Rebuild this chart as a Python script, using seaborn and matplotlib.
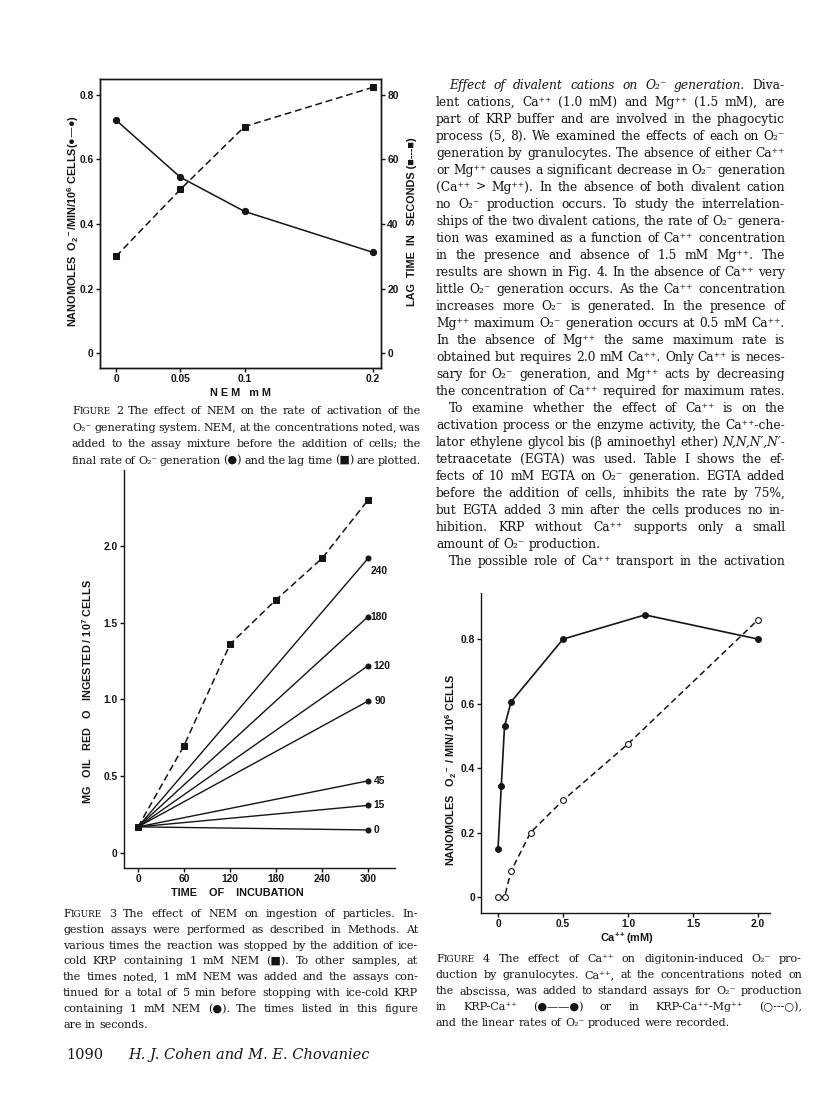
import matplotlib
matplotlib.use("Agg")
import matplotlib.pyplot as plt
import seaborn as sns

# ---------------- data ----------------
# Figure 2
nem_mM = [0, 0.05, 0.1, 0.2]
o2_rate = [0.722, 0.545, 0.439, 0.312]
lag_time_s = [30.0, 50.7, 70.2, 82.4]
fig2_xticks = [0, 0.05, 0.1, 0.2]
fig2_xticklabels = ["0", "0.05", "0.1", "0.2"]
fig2_yticks = [0, 0.2, 0.4, 0.6, 0.8]
fig2_yticklabels = ["0", "0.2", "0.4", "0.6", "0.8"]
fig2_y2ticks = [0, 20, 40, 60, 80]
fig2_y2ticklabels = ["0", "20", "40", "60", "80"]

# Figure 3
incub_time = [0, 60, 120, 180, 240, 300]
ingested_nem = [0.17, 0.70, 1.36, 1.65, 1.92, 2.30]
nem_added_at = [240, 180, 120, 90, 45, 15, 0]
ingested_5min = [1.92, 1.54, 1.22, 0.99, 0.47, 0.31, 0.15]
ingested_t0 = 0.17
assay_start = 0
assay_end = 300
fig3_xticks = [0, 60, 120, 180, 240, 300]
fig3_yticks = [0, 0.5, 1.0, 1.5, 2.0]
fig3_yticklabels = ["0", "0.5", "1.0", "1.5", "2.0"]

# Figure 4
ca_krp = [0, 0.025, 0.05, 0.1, 0.5, 1.13, 2.0]
o2_krp = [0.15, 0.345, 0.53, 0.605, 0.80, 0.875, 0.80]
ca_mg = [0, 0.05, 0.1, 0.25, 0.5, 1.0, 2.0]
o2_mg = [0.0, 0.0, 0.08, 0.20, 0.30, 0.475, 0.86]
fig4_xticks = [0, 0.5, 1.0, 1.5, 2.0]
fig4_xticklabels = ["0", "0.5", "1.0", "1.5", "2.0"]
fig4_yticks = [0, 0.2, 0.4, 0.6, 0.8]
fig4_yticklabels = ["0", "0.2", "0.4", "0.6", "0.8"]

# ---------------- text ----------------
O2 = "O\u2082\u207b"
CA = "Ca\u207a\u207a"
MG = "Mg\u207a\u207a"

body_lines = [
    f">*Effect *of *divalent *cations *on *{O2} *generation. Diva-",
    f"lent cations, {CA} (1.0 mM) and {MG} (1.5 mM), are",
    "part of KRP buffer and are involved in the phagocytic",
    f"process (5, 8). We examined the effects of each on {O2}",
    f"generation by granulocytes. The absence of either {CA}",
    f"or {MG} causes a significant decrease in {O2} generation",
    f"({CA} > {MG}). In the absence of both divalent cation",
    f"no {O2} production occurs. To study the interrelation-",
    f"ships of the two divalent cations, the rate of {O2} genera-",
    f"tion was examined as a function of {CA} concentration",
    f"in the presence and absence of 1.5 mM {MG}. The",
    f"results are shown in Fig. 4. In the absence of {CA} very",
    f"little {O2} generation occurs. As the {CA} concentration",
    f"increases more {O2} is generated. In the presence of",
    f"{MG} maximum {O2} generation occurs at 0.5 mM {CA}.",
    f"In the absence of {MG} the same maximum rate is",
    f"obtained but requires 2.0 mM {CA}. Only {CA} is neces-",
    f"sary for {O2} generation, and {MG} acts by decreasing",
    f"the concentration of {CA} required for maximum rates.",
    f">To examine whether the effect of {CA} is on the",
    f"activation process or the enzyme activity, the {CA}-che-",
    "lator ethylene glycol bis (β aminoethyl ether) *N,N,N′,N′-",
    "tetraacetate (EGTA) was used. Table I shows the ef-",
    f"fects of 10 mM EGTA on {O2} generation. EGTA added",
    "before the addition of cells, inhibits the rate by 75%,",
    "but EGTA added 3 min after the cells produces no in-",
    f"hibition. KRP without {CA} supports only a small",
    f"amount of {O2} production.",
    f">The possible role of {CA} transport in the activation",
]
body_nojust = {27}

cap2_lines = [
    "FIGURE 2 The effect of NEM on the rate of activation of the",
    f"{O2} generating system. NEM, at the concentrations noted, was",
    "added to the assay mixture before the addition of cells; the",
    f"final rate of {O2} generation (●) and the lag time (■) are plotted.",
]
cap3_lines = [
    "FIGURE 3 The effect of NEM on ingestion of particles. In-",
    "gestion assays were performed as described in Methods. At",
    "various times the reaction was stopped by the addition of ice-",
    "cold KRP containing 1 mM NEM (■). To other samples, at",
    "the times noted, 1 mM NEM was added and the assays con-",
    "tinued for a total of 5 min before stopping with ice-cold KRP",
    "containing 1 mM NEM (●). The times listed in this figure",
    "are in seconds.",
]
cap4_lines = [
    f"FIGURE 4 The effect of {CA} on digitonin-induced {O2} pro-",
    f"duction by granulocytes. {CA}, at the concentrations noted on",
    f"the abscissa, was added to standard assays for {O2} production",
    f"in KRP-{CA} (●——●) or in KRP-{CA}-{MG} (○---○),",
    f"and the linear rates of {O2} produced were recorded.",
]

# ---------------- style ----------------
W, H, DPI = 816, 1118, 100
INK = "#151515"
sns.set_style("ticks")
plt.rcParams["font.family"] = ["Liberation Sans", "DejaVu Sans"]
plt.rcParams["mathtext.default"] = "regular"
plt.rcParams["axes.edgecolor"] = INK
plt.rcParams["axes.linewidth"] = 1.0
plt.rcParams["xtick.color"] = INK
plt.rcParams["ytick.color"] = INK
SERIF = ["DejaVu Serif", "DejaVu Sans"]

fig = plt.figure(figsize=(W / DPI, H / DPI), dpi=DPI)
fig.patch.set_facecolor("white")
renderer = fig.canvas.get_renderer()


def ax_at(l, t, r, b):
    return fig.add_axes([l / W, 1 - b / H, (r - l) / W, (b - t) / H])


def fx(x):
    return x / W


def fy(y):
    return 1 - y / H


def style_ticks(ax, xt=None, xl=None, yt=None, yl=None, size=7.4):
    if xt is not None:
        ax.set_xticks(xt)
        ax.set_xticklabels(xl, fontweight="bold", fontsize=size)
    if yt is not None:
        ax.set_yticks(yt)
        ax.set_yticklabels(yl, fontweight="bold", fontsize=size)
    ax.tick_params(direction="out", length=3, width=1.0, pad=1.5)
    ax.set_xlabel("")
    ax.set_ylabel("")


LABEL = dict(fontweight="bold", fontsize=7.8, color=INK, ha="center", va="center")

# ---------------- Figure 2 ----------------
ax2 = ax_at(100, 79, 381, 368)
sns.lineplot(x=nem_mM, y=o2_rate, ax=ax2, color=INK, lw=1.1, marker="o",
             markersize=4.5, markeredgecolor=INK, markerfacecolor=INK)
ax2.set_xlim(-0.0125, 0.2062)
ax2.set_ylim(-0.0465, 0.8496)
style_ticks(ax2, fig2_xticks, fig2_xticklabels, fig2_yticks, fig2_yticklabels)
ax2b = ax2.twinx()
sns.lineplot(x=nem_mM, y=lag_time_s, ax=ax2b, color=INK, lw=1.1, marker="s",
             markersize=4.5, markeredgecolor=INK, markerfacecolor=INK, linestyle="--")
ax2b.lines[-1].set_dashes([4.5, 2.5])
ax2b.set_ylim(-4.65, 84.96)
style_ticks(ax2b, None, None, fig2_y2ticks, fig2_y2ticklabels)
for sp in ax2.spines.values():
    sp.set_visible(True)
fig.text(fx(73), fy(221), "NANOMOLES  O$_2$$^-$/MIN/10$^6$ CELLS(●—●)", rotation=90, **LABEL)
fig.text(fx(412), fy(222), "LAG  TIME  IN   SECONDS (■---■)", rotation=90, **LABEL)
fig.text(fx(240), fy(393), "N E M   m M", **LABEL)

# ---------------- Figure 3 ----------------
ax3 = ax_at(124, 470, 395, 868)
sns.lineplot(x=incub_time, y=ingested_nem, ax=ax3, color=INK, lw=1.1, marker="s",
             markersize=4.2, markeredgecolor=INK, markerfacecolor=INK, linestyle="--")
ax3.lines[-1].set_dashes([4.5, 2.5])
label_offsets = {240: (1.5, -9), 180: (1.5, 0), 120: (4, 0), 90: (5, 0),
                 45: (4, 0), 15: (4, 0), 0: (4, 0)}
for t_add, v in zip(nem_added_at, ingested_5min):
    sns.lineplot(x=[assay_start, assay_end], y=[ingested_t0, v], ax=ax3, color=INK,
                 lw=1.0, marker="o", markersize=3.6, markevery=[1],
                 markeredgecolor=INK, markerfacecolor=INK)
    ax3.annotate(str(t_add), xy=(assay_end, v), xytext=label_offsets[t_add],
                 textcoords="offset points", ha="left", va="center",
                 fontsize=7.4, fontweight="bold", color=INK)
ax3.set_xlim(-18.3, 335)
ax3.set_ylim(-0.098, 2.495)
style_ticks(ax3, fig3_xticks, [str(v) for v in fig3_xticks], fig3_yticks, fig3_yticklabels)
sns.despine(ax=ax3)
fig.text(fx(87), fy(692), "MG   OIL   RED   O   INGESTED / 10$^7$ CELLS", rotation=90, **LABEL)
fig.text(fx(237), fy(893), "TIME    OF    INCUBATION", **LABEL)

# ---------------- Figure 4 ----------------
ax4 = ax_at(481, 593, 770, 913)
sns.lineplot(x=ca_krp, y=o2_krp, ax=ax4, color=INK, lw=1.2, marker="o",
             markersize=4.2, markeredgecolor=INK, markerfacecolor=INK)
sns.lineplot(x=ca_mg, y=o2_mg, ax=ax4, color=INK, lw=1.1, marker="o",
             markersize=4.2, markeredgecolor=INK, markerfacecolor="white",
             markeredgewidth=0.8, linestyle="--")
ax4.lines[-1].set_dashes([4, 2.5])
ax4.set_xlim(-0.131, 2.092)
ax4.set_ylim(-0.0496, 0.943)
style_ticks(ax4, fig4_xticks, fig4_xticklabels, fig4_yticks, fig4_yticklabels)
sns.despine(ax=ax4)
fig.text(fx(451), fy(770), "NANOMOLES   O$_2$$^-$ / MIN/ 10$^6$ CELLS", rotation=90, **LABEL)
fig.text(fx(627), fy(938), "Ca$^{++}$(mM)", **LABEL)


# ---------------- justified text blocks ----------------
def parts_of(w):
    st = "normal"
    if w.startswith("*"):
        st = "italic"
        w = w[1:]
    if w == "FIGURE":
        return [("F", 1.0, st), ("IGURE", 0.8, st)]
    return [(w, 1.0, st)]


def text_width(txt, fs, st, family):
    t = fig.text(0, 0, txt, fontsize=fs, family=family, style=st)
    w = t.get_window_extent(renderer).width
    t.remove()
    return w


def space_width(fs, family):
    return text_width("n n", fs, "normal", family) - text_width("nn", fs, "normal", family)


def draw_block(lines, x0, x1, base0, lh, family=SERIF, s0=10.0, nojust=(), indent=13,
               fill=1.0, q=0.12, size=None):
    parsed = []
    for line in lines:
        ind = 0
        if line.startswith(">"):
            ind = indent
            line = line[1:]
        parsed.append((ind, [parts_of(w) for w in line.split()]))
    if size is None:
        sp0 = space_width(s0, family)
        ratios = []
        for i, (ind, words) in enumerate(parsed):
            if i in nojust:
                continue
            tot = sum(text_width(p, s0 * sc, st, family) for wd in words for (p, sc, st) in wd)
            tot += sp0 * (len(words) - 1)
            ratios.append((x1 - x0 - ind) / tot)
        ratios.sort()
        size = s0 * ratios[int(len(ratios) * q)] * fill
    sp = space_width(size, family)
    for i, (ind, words) in enumerate(parsed):
        base = base0 + i * lh
        arts = []
        widths = []
        for wd in words:
            wa = []
            ww = 0
            for (p, sc, st) in wd:
                t = fig.text(0, fy(base), p, fontsize=size * sc, family=family, style=st,
                             va="baseline", ha="left", color=INK)
                w = t.get_window_extent(renderer).width
                wa.append((t, w))
                ww += w
            arts.append(wa)
            widths.append(ww)
        if i in nojust or len(words) == 1:
            gap = sp
        else:
            gap = max((x1 - x0 - ind - sum(widths)) / (len(words) - 1), 0.45 * sp)
        x = x0 + ind
        for wa, ww in zip(arts, widths):
            xx = x
            for t, w in wa:
                t.set_x(fx(xx))
                xx += w
            x += ww + gap
    return size


body_size = draw_block(body_lines, 436, 785, 89, 17.0, nojust=body_nojust)
cap_size = body_size * 0.9
draw_block(cap2_lines, 72, 421, 414, 16.5, size=cap_size)
draw_block(cap3_lines, 63, 418, 917, 15.8, nojust={7}, size=cap_size)
draw_block(cap4_lines, 436, 802, 962, 16.0, nojust={4}, size=cap_size)

fig.text(fx(66), fy(1059), "1090", fontsize=10.5, family=SERIF, color=INK, va="baseline")
fig.text(fx(128), fy(1059), "H. J. Cohen and M. E. Chovaniec", fontsize=10.5, family=SERIF,
         style="italic", color=INK, va="baseline")

fig.savefig("out.png", dpi=DPI, facecolor="white")
